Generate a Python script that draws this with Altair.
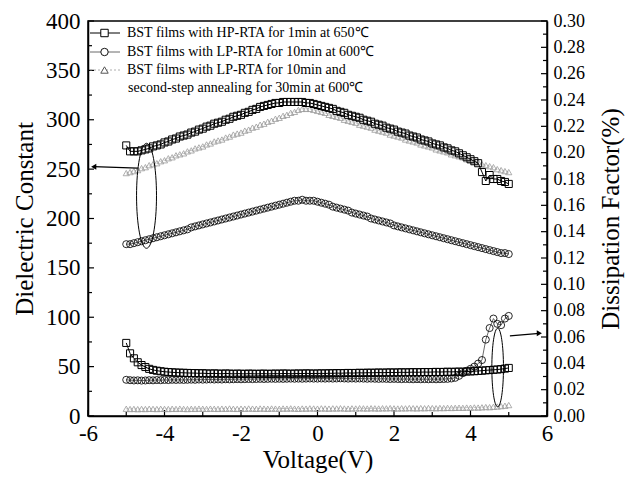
import altair as alt
import pandas as pd

# ---------------- data ----------------
voltage = [round(-5 + 0.1 * i, 1) for i in range(101)]

# Dielectric constant (left axis)
eps_hp = [274, 268, 268, 268, 269, 270, 271, 273, 274, 275,
          277, 278, 280, 281, 283, 284, 285, 287, 288, 290,
          291, 293, 294, 296, 297, 298, 300, 301, 303, 304,
          305, 307, 308, 310, 311, 313, 314, 315, 316, 317,
          317, 318, 318, 318, 318, 318, 318, 317, 317, 316,
          315, 314, 313, 312, 311, 309, 308, 307, 305, 304,
          303, 302, 300, 299, 298, 296, 295, 294, 292, 291,
          290, 288, 287, 286, 284, 283, 282, 280, 279, 278,
          276, 275, 274, 272, 271, 269, 268, 266, 264, 262,
          260, 258, 256, 247, 238, 244, 240, 240, 238, 237,
          235]
eps_lp = [174, 174, 175, 176, 177, 178, 179, 180, 181, 182,
          183, 184, 185, 186, 187, 188, 189, 191, 192, 193,
          194, 195, 196, 197, 198, 199, 200, 201, 202, 203,
          204, 205, 206, 207, 208, 209, 210, 211, 212, 213,
          214, 215, 216, 217, 218, 218, 219, 218, 218, 218,
          217, 216, 215, 214, 212, 211, 210, 209, 208, 206,
          205, 204, 203, 202, 200, 199, 198, 197, 196, 195,
          193, 192, 191, 190, 189, 188, 187, 186, 185, 184,
          183, 182, 181, 180, 179, 178, 177, 176, 175, 174,
          173, 172, 171, 170, 169, 168, 167, 166, 165, 165,
          164]
eps_lp2 = [246, 247, 248, 249, 251, 252, 254, 255, 256, 258,
           259, 261, 262, 264, 265, 266, 268, 269, 271, 272,
           273, 275, 276, 278, 279, 280, 282, 283, 285, 286,
           287, 289, 290, 292, 293, 295, 296, 298, 299, 301,
           302, 304, 305, 307, 308, 310, 311, 311, 311, 310,
           309, 308, 307, 305, 304, 303, 302, 300, 299, 298,
           297, 295, 294, 293, 292, 290, 289, 288, 287, 285,
           284, 283, 282, 280, 279, 278, 277, 275, 274, 273,
           272, 270, 269, 268, 267, 265, 264, 263, 262, 260,
           259, 258, 257, 255, 254, 253, 252, 250, 249, 248,
           247]

# Dissipation factor (right axis, %)
df_hp = [0.0555, 0.0476, 0.0438, 0.0408, 0.0387, 0.0372, 0.0358, 0.0350, 0.0344, 0.0340,
         0.0336, 0.0334, 0.0332, 0.0330, 0.0329, 0.0328, 0.0327, 0.0326, 0.0326, 0.0324,
         0.0325, 0.0323, 0.0322, 0.0324, 0.0322, 0.0321, 0.0323, 0.0322, 0.0320, 0.0322,
         0.0321, 0.0320, 0.0322, 0.0321, 0.0320, 0.0321, 0.0322, 0.0320, 0.0321, 0.0322,
         0.0321, 0.0323, 0.0322, 0.0321, 0.0322, 0.0323, 0.0322, 0.0324, 0.0323, 0.0322,
         0.0323, 0.0324, 0.0323, 0.0325, 0.0324, 0.0326, 0.0325, 0.0326, 0.0327, 0.0326,
         0.0327, 0.0328, 0.0327, 0.0329, 0.0328, 0.0329, 0.0330, 0.0329, 0.0330, 0.0331,
         0.0330, 0.0331, 0.0332, 0.0331, 0.0332, 0.0333, 0.0332, 0.0333, 0.0334, 0.0333,
         0.0334, 0.0335, 0.0334, 0.0335, 0.0336, 0.0335, 0.0336, 0.0337, 0.0336, 0.0338,
         0.0339, 0.0340, 0.0342, 0.0344, 0.0347, 0.0349, 0.0351, 0.0353, 0.0356, 0.0360,
         0.0365]
df_lp = [0.0275, 0.0272, 0.0270, 0.0271, 0.0269, 0.0270, 0.0272, 0.0271, 0.0273, 0.0272,
         0.0274, 0.0273, 0.0275, 0.0274, 0.0275, 0.0274, 0.0275, 0.0276, 0.0275, 0.0277,
         0.0276, 0.0277, 0.0278, 0.0277, 0.0278, 0.0277, 0.0279, 0.0278, 0.0279, 0.0280,
         0.0279, 0.0280, 0.0281, 0.0280, 0.0281, 0.0282, 0.0281, 0.0282, 0.0283, 0.0282,
         0.0283, 0.0282, 0.0283, 0.0284, 0.0283, 0.0284, 0.0283, 0.0284, 0.0285, 0.0284,
         0.0284, 0.0285, 0.0284, 0.0285, 0.0284, 0.0285, 0.0286, 0.0285, 0.0284, 0.0285,
         0.0284, 0.0285, 0.0284, 0.0283, 0.0284, 0.0283, 0.0282, 0.0283, 0.0282, 0.0281,
         0.0282, 0.0281, 0.0280, 0.0281, 0.0280, 0.0279, 0.0280, 0.0279, 0.0280, 0.0279,
         0.0280, 0.0279, 0.0280, 0.0281, 0.0282, 0.0285, 0.0290, 0.0305, 0.0325, 0.0343,
         0.0358, 0.0375, 0.0398, 0.0425, 0.0580, 0.0668, 0.0740, 0.0700, 0.0690, 0.0740,
         0.0760]
df_lp2 = [0.0055, 0.0053, 0.0054, 0.0052, 0.0054, 0.0053, 0.0055, 0.0054, 0.0053, 0.0055,
          0.0054, 0.0053, 0.0055, 0.0054, 0.0056, 0.0054, 0.0053, 0.0055, 0.0054, 0.0056,
          0.0055, 0.0054, 0.0056, 0.0055, 0.0054, 0.0056, 0.0055, 0.0057, 0.0055, 0.0054,
          0.0056, 0.0055, 0.0057, 0.0056, 0.0055, 0.0057, 0.0056, 0.0055, 0.0057, 0.0056,
          0.0055, 0.0057, 0.0056, 0.0058, 0.0056, 0.0055, 0.0057, 0.0056, 0.0058, 0.0057,
          0.0056, 0.0058, 0.0057, 0.0056, 0.0058, 0.0057, 0.0059, 0.0057, 0.0056, 0.0058,
          0.0057, 0.0059, 0.0058, 0.0057, 0.0059, 0.0058, 0.0057, 0.0059, 0.0058, 0.0060,
          0.0058, 0.0057, 0.0059, 0.0058, 0.0060, 0.0059, 0.0058, 0.0060, 0.0059, 0.0061,
          0.0060, 0.0059, 0.0061, 0.0060, 0.0062, 0.0061, 0.0062, 0.0063, 0.0062, 0.0064,
          0.0063, 0.0065, 0.0064, 0.0066, 0.0068, 0.0067, 0.0070, 0.0072, 0.0075, 0.0078,
          0.0083]

# tick positions
x_major = [-6, -4, -2, 0, 2, 4, 6]
x_minor = [-5, -3, -1, 1, 3, 5]
eps_major = [0, 50, 100, 150, 200, 250, 300, 350, 400]
eps_minor = [25, 75, 125, 175, 225, 275, 325, 375]
df_major = [0.00, 0.02, 0.04, 0.06, 0.08, 0.10, 0.12, 0.14, 0.16,
            0.18, 0.20, 0.22, 0.24, 0.26, 0.28, 0.30]
df_minor = [0.01, 0.03, 0.05, 0.07, 0.09, 0.11, 0.13, 0.15,
            0.17, 0.19, 0.21, 0.23, 0.25, 0.27, 0.29]

legend_labels = ["BST films with HP-RTA for 1min at 650\u2103",
                 "BST films with LP-RTA for 10min at 600\u2103",
                 "BST films with LP-RTA for 10min and",
                 "second-step annealing for 30min at 600\u2103"]

# annotation anchors (data coordinates)
ell_left = {"V": [-4.47], "eps": [223]}
arrow_left = {"V": [-4.7], "V2": [-5.85], "eps": [251], "eps2": [252.5]}
ell_right = {"V": [4.71], "DF": [0.0368]}
arrow_right = {"V": [5.03], "V2": [5.8], "DF": [0.0608], "DF2": [0.0628]}

# ---------------- chart ----------------
W, H = 459, 395
FONT = "Liberation Serif"

xs = alt.Scale(domain=[-6, 6], nice=False, zero=False)
ysl = alt.Scale(domain=[0, 400], nice=False)
ysr = alt.Scale(domain=[0, 0.30], nice=False)

x_axis = alt.Axis(values=x_major, title="Voltage(V)", ticks=False, grid=False,
                  labelExpr="'' + datum.value", labelPadding=6, labelFontSize=23,
                  labelFont=FONT, titleFont=FONT, titleFontWeight="normal",
                  titleFontSize=25, titlePadding=2, labelFlush=False)
yl_axis = alt.Axis(values=eps_major, title="Dielectric Constant", ticks=False, grid=False,
                   labelFont=FONT, titleFont=FONT, titleFontWeight="normal",
                   labelPadding=8, labelFontSize=23, titleFontSize=25, titlePadding=8)
yr_axis = alt.Axis(values=df_major, title="Dissipation Factor(%)", orient="right",
                   ticks=False, grid=False, format=".2f", labelPadding=6, labelFontSize=18,
                   labelFont=FONT, titleFont=FONT, titleFontWeight="normal",
                   titleFontSize=25, titlePadding=14, titleAngle=270, titleBaseline="top")


def xe():
    return alt.X("V:Q", scale=xs, axis=x_axis)


def yle():
    return alt.Y("eps:Q", scale=ysl, axis=yl_axis)


def yre():
    return alt.Y("DF:Q", scale=ysr, axis=yr_axis)


def ellipse_path(r):
    k = 0.5523
    return (f"M0,-1 C{k*r:.3f},-1 {r},-{k} {r},0 C{r},{k} {k*r:.3f},1 0,1 "
            f"C-{k*r:.3f},1 -{r},{k} -{r},0 C-{r},-{k} -{k*r:.3f},-1 0,-1 Z")


hp_e = pd.DataFrame({"V": voltage, "eps": eps_hp})
lp_e = pd.DataFrame({"V": voltage, "eps": eps_lp})
lp2_e = pd.DataFrame({"V": voltage, "eps": eps_lp2})
hp_d = pd.DataFrame({"V": voltage, "DF": df_hp})
lp_d = pd.DataFrame({"V": voltage, "DF": df_lp})
lp2_d = pd.DataFrame({"V": voltage, "DF": df_lp2})

dummy = pd.DataFrame({"d": [0]})


def series_layers(df, y):
    tri = df[2]
    cir = df[1]
    sq = df[0]
    return [
        alt.Chart(tri).mark_line(color="#aaaaaa", strokeWidth=0.8, strokeDash=[2, 2]).encode(x=xe(), y=y()),
        alt.Chart(tri).mark_point(shape="triangle-up", size=38, filled=False, color="#9a9a9a",
                                  strokeWidth=0.8, opacity=1).encode(x=xe(), y=y()),
        alt.Chart(cir).mark_line(color="#444444", strokeWidth=0.8).encode(x=xe(), y=y()),
        alt.Chart(cir).mark_point(shape="circle", size=50, filled=False, color="#111111",
                                  strokeWidth=0.9, opacity=1).encode(x=xe(), y=y()),
        alt.Chart(sq).mark_line(color="#000000", strokeWidth=1).encode(x=xe(), y=y()),
        alt.Chart(sq).mark_point(shape="square", size=50, filled=False, color="#000000",
                                 strokeWidth=1, opacity=1).encode(x=xe(), y=y()),
    ]


# ticks (inward)
left_ticks = [
    alt.Chart(pd.DataFrame({"eps": eps_major})).mark_rule(color="black", strokeWidth=1.2)
    .encode(y=yle(), x=alt.value(0), x2=alt.value(6)),
    alt.Chart(pd.DataFrame({"eps": eps_minor})).mark_rule(color="black", strokeWidth=1.2)
    .encode(y=yle(), x=alt.value(0), x2=alt.value(4)),
    alt.Chart(pd.DataFrame({"V": x_major})).mark_rule(color="black", strokeWidth=1.2)
    .encode(x=xe(), y=alt.value(H), y2=alt.value(H - 6)),
    alt.Chart(pd.DataFrame({"V": x_minor})).mark_rule(color="black", strokeWidth=1.2)
    .encode(x=xe(), y=alt.value(H), y2=alt.value(H - 4)),
]
right_ticks = [
    alt.Chart(pd.DataFrame({"DF": df_major})).mark_rule(color="black", strokeWidth=1.2)
    .encode(y=yre(), x=alt.value(W), x2=alt.value(W - 6)),
    alt.Chart(pd.DataFrame({"DF": df_minor})).mark_rule(color="black", strokeWidth=1.2)
    .encode(y=yre(), x=alt.value(W), x2=alt.value(W - 4)),
]

# annotations
ann_left = [
    alt.Chart(pd.DataFrame(ell_left)).mark_point(shape=ellipse_path(0.19), size=11025, filled=False,
                                                 color="black", strokeWidth=1, opacity=1)
    .encode(x=xe(), y=yle()),
    alt.Chart(pd.DataFrame(arrow_left)).mark_rule(color="black", strokeWidth=1.2)
    .encode(x=xe(), x2="V2:Q", y=yle(), y2="eps2:Q"),
    alt.Chart(pd.DataFrame({"V": arrow_left["V2"], "eps": arrow_left["eps2"]}))
    .mark_point(shape="triangle-left", size=36, filled=True, color="black", opacity=1)
    .encode(x=xe(), y=yle()),
]
ann_right = [
    alt.Chart(pd.DataFrame(ell_right)).mark_point(shape=ellipse_path(0.148), size=6178, filled=False,
                                                  color="black", strokeWidth=1, opacity=1)
    .encode(x=xe(), y=yre()),
    alt.Chart(pd.DataFrame(arrow_right)).mark_rule(color="black", strokeWidth=1.2)
    .encode(x=xe(), x2="V2:Q", y=yre(), y2="DF2:Q"),
    alt.Chart(pd.DataFrame({"V": arrow_right["V2"], "DF": arrow_right["DF2"]}))
    .mark_point(shape="triangle-right", size=36, filled=True, color="black", opacity=1)
    .encode(x=xe(), y=yre()),
]

# manual legend (pixel positions inside plot area)
leg_rows = [12, 31, 49, 67]
legend = []
legend.append(alt.Chart(dummy).mark_rule(color="black", strokeWidth=1)
              .encode(x=alt.value(2), x2=alt.value(32), y=alt.value(leg_rows[0])))
legend.append(alt.Chart(dummy).mark_rule(color="#444444", strokeWidth=0.8)
              .encode(x=alt.value(2), x2=alt.value(32), y=alt.value(leg_rows[1])))
legend.append(alt.Chart(dummy).mark_rule(color="#999999", strokeWidth=0.8, strokeDash=[2, 2])
              .encode(x=alt.value(2), x2=alt.value(32), y=alt.value(leg_rows[2])))
legend.append(alt.Chart(dummy).mark_point(shape="square", size=55, filled=True, fill="white",
                                          stroke="black", strokeWidth=1, opacity=1)
              .encode(x=alt.value(16.5), y=alt.value(leg_rows[0])))
legend.append(alt.Chart(dummy).mark_point(shape="circle", size=55, filled=True, fill="white",
                                          stroke="#111111", strokeWidth=1, opacity=1)
              .encode(x=alt.value(16.5), y=alt.value(leg_rows[1])))
legend.append(alt.Chart(dummy).mark_point(shape="triangle-up", size=55, filled=True, fill="white",
                                          stroke="#555555", strokeWidth=1, opacity=1)
              .encode(x=alt.value(16.5), y=alt.value(leg_rows[2])))
for i, lab in enumerate(legend_labels):
    legend.append(alt.Chart(dummy).mark_text(align="left", baseline="middle", font=FONT,
                                             fontSize=14, color="black")
                  .encode(x=alt.value(39 if i < 3 else 40), y=alt.value(leg_rows[i]),
                          text=alt.value(lab)))

left = alt.layer(*(series_layers([hp_e, lp_e, lp2_e], yle) + left_ticks + ann_left + legend))
right = alt.layer(*(series_layers([hp_d, lp_d, lp2_d], yre) + right_ticks + ann_right))

chart = (
    alt.layer(left, right)
    .resolve_scale(y="independent")
    .properties(width=W, height=H,
                autosize=alt.AutoSizeParams(type="none"),
                padding={"left": 80, "top": 13, "right": 80, "bottom": 60})
    .configure_axis(labelFont=FONT, titleFont=FONT, labelColor="black", titleColor="black",
                    domainColor="black", domainWidth=1.5, titleFontWeight="normal", grid=False)
    .configure_view(stroke="black", strokeWidth=1.5)
    .configure_text(font=FONT)
)

chart.save("out.html", embed_options={"renderer": "svg", "actions": False})
